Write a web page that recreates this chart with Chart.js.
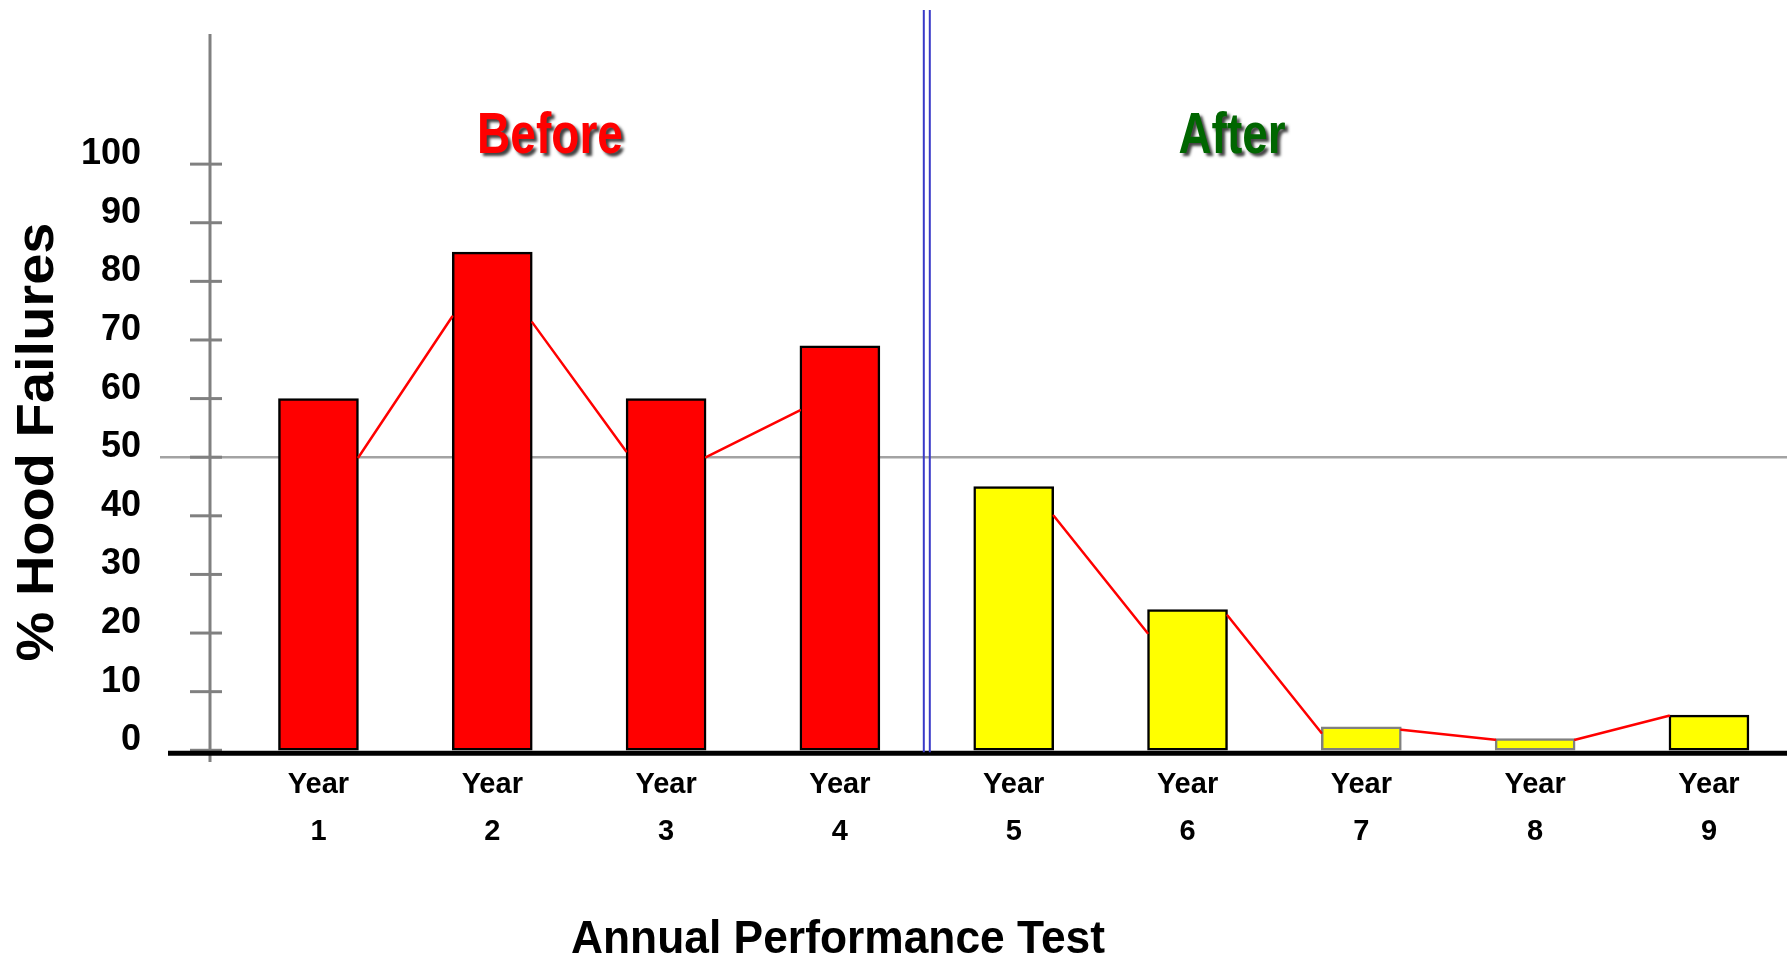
<!DOCTYPE html>
<html>
<head>
<meta charset="utf-8">
<title>Hood Failures by Annual Performance Test</title>
<script src="https://cdn.jsdelivr.net/npm/chart.js@4.4.1/dist/chart.umd.min.js"></script>
<style>
  html, body { margin: 0; padding: 0; background: #ffffff; }
  #wrap { width: 1792px; height: 957px; }
</style>
</head>
<body>
<div id="wrap"><canvas id="chart" width="1792" height="957"></canvas></div>
<script>
// ---- data ----
const years = [1, 2, 3, 4, 5, 6, 7, 8, 9];
const failurePct = [60, 85, 60, 69, 45, 24, 4, 2, 6];
// trend segments between consecutive years: value leaving year i, value arriving at year i+1
const trendOut = [50, 73, 50, null, 40, 23, 3.5, 1.8];
const trendIn  = [74, 51, 58, null, 20, 3, 1.8, 5.9];
const yTickValues = [0, 10, 20, 30, 40, 50, 60, 70, 80, 90, 100];
const referencePct = 50;
const yearsBefore = 4;
const phaseTitles = ['Before', 'After'];
const xAxisTitle = 'Annual Performance Test';
const yAxisTitle = '% Hood Failures';

// ---- styles ----
const FONT = "'Liberation Sans', Arial, Helvetica, sans-serif";
const barEdge = ['#000000', '#000000', '#000000', '#000000', '#000000', '#000000', '#808080', '#808080', '#000000'];

function strokeLine(ctx, x1, y1, x2, y2) {
  ctx.beginPath();
  ctx.moveTo(x1, y1);
  ctx.lineTo(x2, y2);
  ctx.stroke();
}

// bold text squeezed or stretched to a given run length
function drawFitted(ctx, text, x, y, size, runLength, color, opt) {
  opt = opt || {};
  ctx.save();
  ctx.font = 'bold ' + size + 'px ' + FONT;
  const w = ctx.measureText(text).width;
  ctx.translate(x, y);
  if (opt.rotate) ctx.rotate(-Math.PI / 2);
  ctx.scale(runLength / w, 1);
  ctx.textAlign = 'center';
  ctx.textBaseline = 'alphabetic';
  if (opt.shadow) {
    ctx.shadowColor = 'rgba(0,0,0,0.75)';
    ctx.shadowOffsetX = 3;
    ctx.shadowOffsetY = 3;
    ctx.shadowBlur = 3;
  }
  ctx.fillStyle = color;
  ctx.fillText(text, 0, 0);
  ctx.restore();
}

const decor = {
  id: 'decor',
  beforeDatasetsDraw(chart) {
    const { ctx, chartArea: a, scales: { y } } = chart;
    const py = y.getPixelForValue(referencePct);
    ctx.save();
    ctx.strokeStyle = '#a3a3a3';
    ctx.lineWidth = 2.5;
    strokeLine(ctx, 160, py, a.right, py);
    ctx.restore();
  },
  afterDatasetsDraw(chart) {
    const { ctx, chartArea: a, scales: { x, y } } = chart;
    const meta = chart.getDatasetMeta(0);
    const y0 = y.getPixelForValue(0);
    ctx.save();

    // value axis with short cross ticks
    ctx.strokeStyle = '#808080';
    ctx.lineWidth = 3;
    strokeLine(ctx, a.left, a.top, a.left, a.bottom);
    yTickValues.forEach(v => {
      const py = y.getPixelForValue(v);
      strokeLine(ctx, a.left - 20, py, a.left + 12, py);
    });

    // trend segments from one year's bar to the next
    ctx.strokeStyle = '#ff0000';
    ctx.lineWidth = 2.5;
    ctx.lineCap = 'round';
    for (let i = 0; i < trendOut.length; i++) {
      if (trendOut[i] == null || trendIn[i] == null) continue;
      const b1 = meta.data[i], b2 = meta.data[i + 1];
      strokeLine(ctx,
        b1.x + b1.width / 2, y.getPixelForValue(trendOut[i]),
        b2.x - b2.width / 2, y.getPixelForValue(trendIn[i]));
    }

    // category baseline
    ctx.lineCap = 'butt';
    ctx.strokeStyle = '#000000';
    ctx.lineWidth = 5;
    strokeLine(ctx, 168, y0 + 3, a.right, y0 + 3);

    // double divider between the two phases
    const split = x.getPixelForValue((years[yearsBefore - 1] + years[yearsBefore]) / 2);
    ctx.strokeStyle = '#3a3ac8';
    ctx.lineWidth = 2;
    strokeLine(ctx, split - 3, 10, split - 3, y0 + 2);
    strokeLine(ctx, split + 3, 10, split + 3, y0 + 2);
    ctx.restore();
  },
  afterDraw(chart) {
    const ctx = chart.ctx;
    drawFitted(ctx, phaseTitles[0], 550, 153, 58, 146, '#ff0000', { shadow: true });
    drawFitted(ctx, phaseTitles[1], 1232, 153, 58, 107, '#006600', { shadow: true });
    drawFitted(ctx, xAxisTitle, 838, 953, 47, 534, '#000000');
    drawFitted(ctx, yAxisTitle, 53, 442, 51, 439, '#000000', { rotate: true });
  }
};

new Chart(document.getElementById('chart'), {
  type: 'bar',
  data: {
    datasets: [{
      label: 'Hood failures',
      data: years.map((yr, i) => ({ x: yr, y: failurePct[i] })),
      backgroundColor: c => (c.dataIndex < yearsBefore ? '#ff0000' : '#ffff00'),
      borderColor: barEdge,
      borderWidth: 2.5,
      borderSkipped: false,
      barThickness: 80
    }]
  },
  options: {
    responsive: false,
    animation: false,
    layout: { padding: { top: 34, right: 5, bottom: 0, left: 0 } },
    plugins: { legend: { display: false }, tooltip: { enabled: false } },
    scales: {
      x: {
        type: 'linear',
        offset: false,
        min: 0.376,
        max: 9.449,
        grid: { display: false, drawTicks: false, offset: false },
        border: { display: false },
        afterBuildTicks: s => { s.ticks = years.map(v => ({ value: v })); },
        afterFit: s => {
          s.height = 195;
          s.paddingLeft = 0; s.paddingRight = 0; s.paddingTop = 0; s.paddingBottom = 0;
        },
        ticks: {
          autoSkip: false,
          maxRotation: 0,
          padding: 0,
          color: '#000000',
          font: { family: FONT, size: 29, weight: 'bold', lineHeight: 1.62 },
          callback: v => ['Year', String(v)]
        }
      },
      y: {
        min: -2,
        max: 122.2,
        grid: { display: false, drawTicks: false },
        border: { display: false },
        afterBuildTicks: s => { s.ticks = yTickValues.map(v => ({ value: v })); },
        afterFit: s => {
          s.width = 210;
          s.paddingLeft = 0; s.paddingRight = 0; s.paddingTop = 0; s.paddingBottom = 0;
        },
        ticks: {
          padding: 69,
          labelOffset: -10,
          color: '#000000',
          font: { family: FONT, size: 36, weight: 'bold' },
          callback: v => String(v)
        }
      }
    }
  },
  plugins: [decor]
});
</script>
</body>
</html>
